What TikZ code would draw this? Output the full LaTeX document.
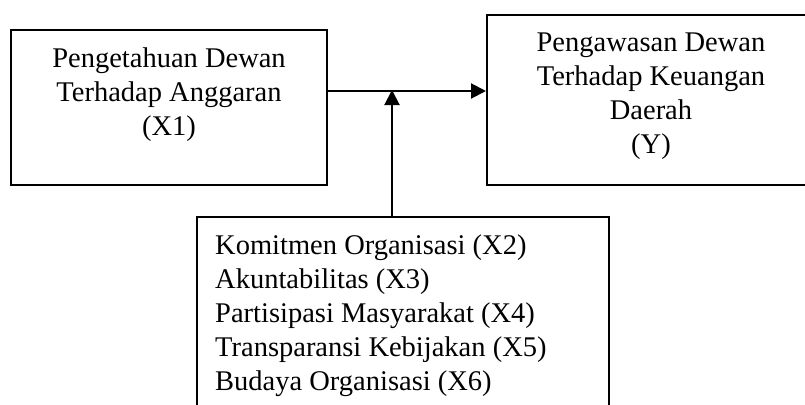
\documentclass[tikz,border=0pt]{standalone}
\usepackage{fontspec}
\setmainfont{Liberation Serif}
\usetikzlibrary{arrows.meta}
\begin{document}
\begin{tikzpicture}[x=1pt,y=-1pt,
        kotak/.style={draw,line width=2pt,inner sep=0pt},
        teks/.style={inner sep=0pt,font=\fontsize{28.5}{34}\selectfont},
        panah/.style={line width=2pt,-{Triangle[length=15pt,width=15pt]}}]
        \useasboundingbox (0,0) rectangle (805,404);
        \node[kotak,minimum width=316pt,minimum height=155pt] (pengetahuan) at (169,107.5) {}; % kotak X1
        \node[kotak,minimum width=328pt,minimum height=170pt] (pengawasan) at (651,100) {}; % kotak Y
        \node[kotak,minimum width=412pt,minimum height=203pt] (moderasi) at (403,318.5) {}; % kotak X2 - X6
        \node[teks,align=center,anchor=north] (pengetahuan-teks) at (169,47.5) {Pengetahuan Dewan\\Terhadap Anggaran\\(X1)};
        \node[teks,align=center,anchor=north] (pengawasan-teks) at (651,33) {Pengawasan Dewan\\Terhadap Keuangan\\Daerah\\(Y)};
        \node[teks,align=left,anchor=north west] (moderasi-teks) at (215,235) {Komitmen Organisasi (X2)\\Akuntabilitas (X3)\\Partisipasi Masyarakat (X4)\\Transparansi Kebijakan (X5)\\Budaya Organisasi (X6)};
        \coordinate (cabang) at (392,91); % titik temu
        \draw[panah] (pengetahuan.east |- cabang) -- (pengawasan.west |- cabang); % X1 ke Y
        \draw[panah,shorten >=-1pt] (moderasi.north -| cabang) -- (cabang); % moderasi
\end{tikzpicture}
\end{document}
